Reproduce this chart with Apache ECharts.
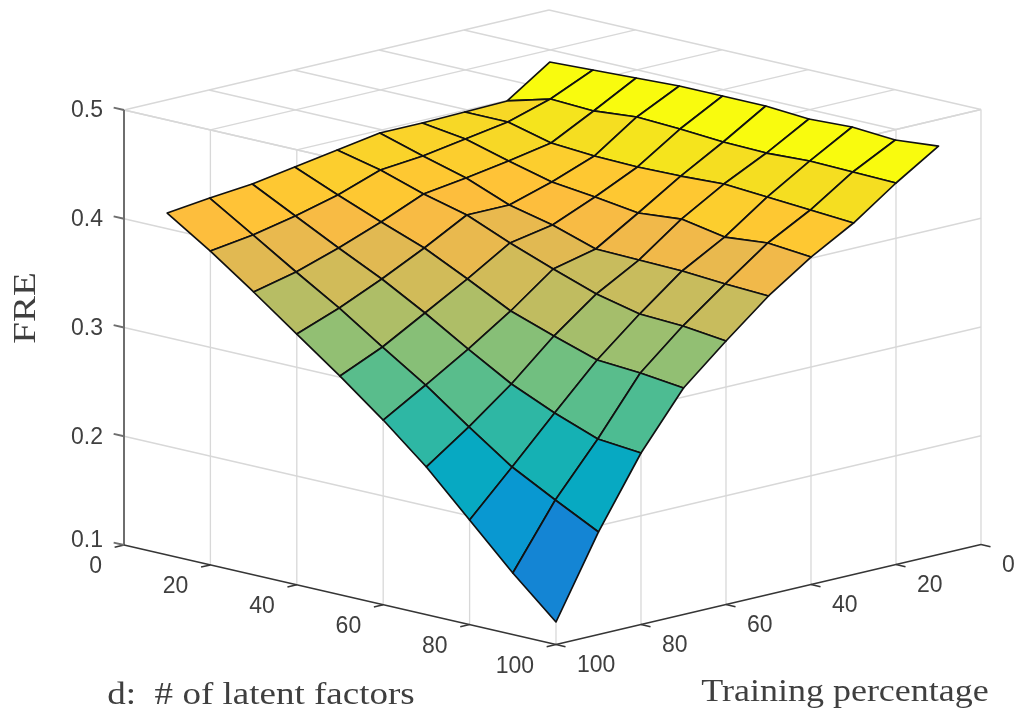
<!DOCTYPE html>
<html>
<head>
<meta charset="utf-8">
<style>
html,body{margin:0;padding:0;background:#fff}
#c{width:1022px;height:717px;filter:blur(0.5px)}
</style>
<script src="https://cdn.jsdelivr.net/npm/echarts@6/dist/echarts.min.js"></script>
</head>
<body>
<div id="c"></div>
<script>
// ---------- data ----------
const latentFactors = [10,20,30,40,50,60,70,80,90,100];
const trainingPct   = [10,20,30,40,50,60,70,80,90,100];
// FRE by latent factor d (row) and training percentage (column)
const freD10  = [.4705,.4439,.4429,.4420,.4420,.4356,.4291,.4227,.4190,.4144];
const freD20  = [.4723,.4548,.4429,.4365,.4300,.4263,.4125,.4024,.3942,.3886];
const freD30  = [.4741,.4530,.4327,.4254,.4189,.4134,.3969,.3822,.3693,.3601];
const freD40  = [.4759,.4566,.4299,.4152,.4033,.4033,.3821,.3628,.3453,.3306];
const freD50  = [.4759,.4547,.4290,.4106,.3940,.3867,.3628,.3407,.3186,.3011];
const freD60  = [.4758,.4519,.4298,.4050,.3811,.3719,.3425,.3167,.2928,.2698];
const freD70  = [.4730,.4509,.4316,.4086,.3801,.3581,.3286,.2937,.2634,.2358];
const freD80  = [.4748,.4527,.4288,.4012,.3792,.3488,.3157,.2762,.2357,.1962];
const freD90  = [.4720,.4518,.4260,.4049,.3764,.3469,.3129,.2614,.2145,.1566];
const freD100 = [.4756,.4508,.4232,.4011,.3745,.3423,.3083,.2577,.1943,.1207];
const fre = [freD10,freD20,freD30,freD40,freD50,freD60,freD70,freD80,freD90,freD100];

const dTicks = [0,20,40,60,80,100];
const trainTicks = [0,20,40,60,80,100];
const freTicks = [0.1,0.2,0.3,0.4,0.5];

const parula = [
[.2081,.1663,.5292],[.2116,.1898,.5777],[.2123,.2138,.6270],[.2081,.2386,.6771],
[.1959,.2645,.7279],[.1707,.2919,.7792],[.1253,.3242,.8303],[.0591,.3598,.8683],
[.0117,.3875,.8820],[.0060,.4086,.8828],[.0165,.4266,.8786],[.0329,.4430,.8720],
[.0498,.4586,.8641],[.0629,.4737,.8554],[.0723,.4887,.8467],[.0779,.5040,.8384],
[.0793,.5200,.8312],[.0749,.5375,.8263],[.0641,.5570,.8240],[.0488,.5772,.8228],
[.0343,.5966,.8199],[.0265,.6137,.8135],[.0239,.6287,.8038],[.0231,.6418,.7913],
[.0228,.6535,.7768],[.0267,.6642,.7607],[.0384,.6743,.7436],[.0590,.6838,.7254],
[.0843,.6928,.7062],[.1133,.7015,.6859],[.1453,.7098,.6646],[.1801,.7177,.6424],
[.2178,.7250,.6193],[.2586,.7317,.5954],[.3022,.7376,.5712],[.3482,.7424,.5473],
[.3953,.7459,.5244],[.4420,.7481,.5033],[.4871,.7491,.4840],[.5300,.7491,.4661],
[.5709,.7485,.4494],[.6099,.7473,.4337],[.6473,.7456,.4188],[.6834,.7435,.4044],
[.7184,.7411,.3905],[.7525,.7384,.3768],[.7858,.7356,.3633],[.8185,.7327,.3498],
[.8507,.7299,.3360],[.8824,.7274,.3217],[.9139,.7258,.3063],[.9450,.7261,.2886],
[.9739,.7314,.2666],[.9938,.7455,.2403],[.9990,.7653,.2164],[.9955,.7861,.1967],
[.9880,.8066,.1794],[.9789,.8271,.1633],[.9697,.8481,.1475],[.9626,.8705,.1309],
[.9589,.8949,.1132],[.9598,.9218,.0948],[.9661,.9514,.0755],[.9763,.9831,.0538]];

// ---------- orthographic view of the 3-D box ----------
const view = {ox:549, oy:445, dx:4.32, dy:.995, tx:-4.25, ty:1, zs:1087.5, z0:.1};
const project = (d,t,z) => [
  view.ox + view.dx*d + view.tx*t,
  view.oy + view.dy*d + view.ty*t - (z-view.z0)*view.zs
];

const allZ = fre.flat();
const zMin = Math.min(...allZ), zMax = Math.max(...allZ);
function colorOf(z){
  const n = Math.min(63, Math.floor((z-zMin)/(zMax-zMin)*64));
  const c = parula[n];
  return `rgb(${Math.round(c[0]*255)},${Math.round(c[1]*255)},${Math.round(c[2]*255)})`;
}

// ---------- surface cells, back to front ----------
const cells = [];
for (let s=0; s<=16; s++) for (let i=0;i<9;i++) { const j=s-i; if (j<0||j>8) continue; cells.push([i,j]); }

// ---------- box lines ----------
const gridSegs = [];
const seg = (a,b,kind)=>({a,b,kind});
const inner = [20,40,60,80];
for (const d of dTicks) gridSegs.push(seg([d,0,.5],[d,100,.5],'grid'));
for (const t of trainTicks) gridSegs.push(seg([0,t,.5],[100,t,.5],'grid'));
for (const d of inner.concat(100)) gridSegs.push(seg([d,100,.1],[d,100,.5],'grid'));
for (const t of [0].concat(inner)) gridSegs.push(seg([100,t,.1],[100,t,.5],'grid'));
for (const z of freTicks.slice(1)) {
  gridSegs.push(seg([0,100,z],[100,100,z],'grid'));
  gridSegs.push(seg([100,0,z],[100,100,z],'grid'));
}
const axisSegs = [
  seg([0,100,.1],[0,100,.5],'zaxis'),
  seg([0,100,.1],[100,100,.1],'axis'),
  seg([100,0,.1],[100,100,.1],'axis')
];
for (const d of dTicks) axisSegs.push(seg([d,100,.1],[d,102.2,.1],'axis'));
for (const t of trainTicks) axisSegs.push(seg([100,t,.1],[102.2,t,.1],'axis'));
for (const z of freTicks) axisSegs.push(seg([0,100,z],[-2.4,100,z],'zaxis'));

const segStyle = {
  grid:{stroke:'#d8d8d8',lineWidth:1.3},
  axis:{stroke:'#363636',lineWidth:1.5},
  zaxis:{stroke:'#6e6e6e',lineWidth:2}
};
const segSeries = (list)=>({
  type:'custom', coordinateSystem:'cartesian2d', silent:true, animation:false, clip:false,
  data:list.map((_,k)=>[k]),
  renderItem:(p,api)=>{
    const s=list[api.value(0)];
    const a=api.coord(project(...s.a)), b=api.coord(project(...s.b));
    return {type:'line',shape:{x1:a[0],y1:a[1],x2:b[0],y2:b[1]},style:Object.assign({fill:null},segStyle[s.kind])};
  }
});

// ---------- texts ----------
const tickFont = '23px "Liberation Sans", Arial, sans-serif';
const titleFont = '32px "Liberation Serif", serif';
const labels = [];
for (const d of dTicks) labels.push({at:project(d,100,.1),dx:-22,dy:22,text:String(d),align:'right',font:tickFont});
for (const t of trainTicks) labels.push({at:project(100,t,.1),dx:21,dy:21,text:String(t),align:'left',font:tickFont});
for (const z of freTicks) labels.push({at:project(0,100,z),dx:-21,dy:z===.1?-4:1,text:z.toFixed(1),align:'right',font:tickFont});
labels.push({at:[261,696],dx:0,dy:0,text:'d:  # of latent factors',align:'center',font:titleFont,sx:1.157});
labels.push({at:[845,693],dx:0,dy:0,text:'Training percentage',align:'center',font:titleFont,sx:1.125});
labels.push({at:[27,308],dx:0,dy:0,text:'FRE',align:'center',font:titleFont,sx:1.22,rot:Math.PI/2});

const option = {
  animation:false,
  backgroundColor:'#fff',
  grid:{left:0,right:0,top:0,bottom:0},
  xAxis:{type:'value',min:0,max:1022,show:false},
  yAxis:{type:'value',min:0,max:717,inverse:true,show:false},
  series:[
    segSeries(gridSegs),
    segSeries(axisSegs),
    {
      type:'custom', coordinateSystem:'cartesian2d', silent:true, animation:false, clip:false,
      data:cells,
      renderItem:(p,api)=>{
        const i=api.value(0), j=api.value(1);
        const corners=[[i,j],[i+1,j],[i+1,j+1],[i,j+1]];
        const pts=corners.map(([a,b])=>api.coord(project(latentFactors[a],trainingPct[b],fre[a][b])));
        return {type:'polygon',shape:{points:pts},
          style:{fill:colorOf(fre[i][j]),stroke:'#111',lineWidth:1.7,lineJoin:'round'}};
      }
    },
    {
      type:'custom', coordinateSystem:'cartesian2d', silent:true, animation:false, clip:false,
      data:labels.map((_,k)=>[k]),
      renderItem:(p,api)=>{
        const l=labels[api.value(0)];
        const c=api.coord(l.at);
        return {type:'text',x:c[0]+l.dx,y:c[1]+l.dy,rotation:l.rot||0,scaleX:l.sx||1,
          style:{text:l.text,font:l.font,fill:'#3f3f3f',align:l.align,verticalAlign:'middle'}};
      }
    }
  ]
};
echarts.init(document.getElementById('c')).setOption(option);
</script>
</body>
</html>
